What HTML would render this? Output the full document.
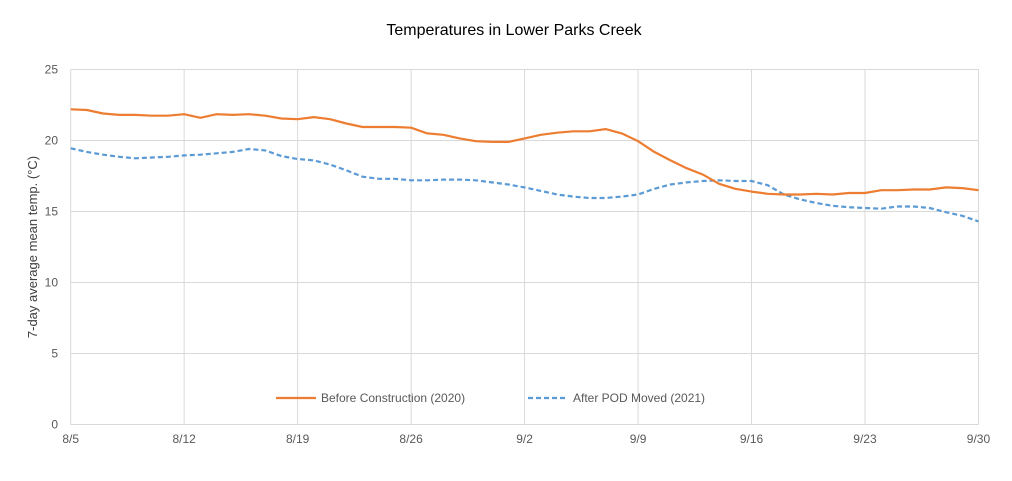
<!DOCTYPE html>
<html><head><meta charset="utf-8"><style>
body{margin:0;background:#fff;}
svg{display:block;font-family:"Liberation Sans",sans-serif;}
</style></head><body>
<svg id="c" width="1012" height="481" xmlns="http://www.w3.org/2000/svg">
<rect width="1012" height="481" fill="#fff"/>
<text x="514" y="35" text-anchor="middle" font-size="16" fill="#000">Temperatures in Lower Parks Creek</text>
<g id="grid" stroke="#d9d9d9" stroke-width="1"></g>
<g id="labels" font-size="12" fill="#595959"></g>
<text transform="translate(37,247) rotate(-90)" text-anchor="middle" font-size="13" fill="#404040">7-day average  mean temp. (°C)</text>
<g id="series"></g>
<line x1="276" y1="398" x2="316" y2="398" stroke="#ed7d31" stroke-width="2.2"/>
<text x="321" y="402" font-size="12" fill="#595959">Before Construction (2020)</text>
<line x1="528" y1="398" x2="568" y2="398" stroke="#5b9bd5" stroke-width="2.2" stroke-dasharray="5,3"/>
<text x="573" y="402" font-size="12" fill="#595959">After POD Moved (2021)</text>
</svg>
<script>
var x0=70.7,dx=16.21,y0=424.5,ky=14.2;
var ns="http://www.w3.org/2000/svg";
function el(t,a,p){var e=document.createElementNS(ns,t);for(var k in a)e.setAttribute(k,a[k]);p.appendChild(e);return e;}
var g=document.getElementById('grid'),L=document.getElementById('labels'),S=document.getElementById('series');
for(var v=0;v<=25;v+=5){var y=y0-v*ky;el('line',{x1:x0,x2:978.6,y1:y,y2:y},g);var t=el('text',{x:58,y:y+4,'text-anchor':'end'},L);t.textContent=v;}
var xl=['8/5','8/12','8/19','8/26','9/2','9/9','9/16','9/23','9/30'];
for(var i=0;i<9;i++){var x=x0+i*7*dx;el('line',{x1:x,x2:x,y1:69.5,y2:y0},g);var t=el('text',{x:x,y:443,'text-anchor':'middle'},L);t.textContent=xl[i];}
var o=[22.2,22.15,21.9,21.8,21.8,21.75,21.75,21.85,21.6,21.85,21.8,21.85,21.75,21.55,21.5,21.65,21.5,21.2,20.95,20.95,20.95,20.9,20.5,20.4,20.15,19.95,19.9,19.9,20.15,20.4,20.55,20.65,20.65,20.8,20.5,19.95,19.2,18.6,18.05,17.6,16.95,16.6,16.4,16.25,16.2,16.2,16.25,16.2,16.3,16.3,16.5,16.5,16.55,16.55,16.7,16.65,16.5];
var b=[19.45,19.2,19.0,18.85,18.75,18.8,18.85,18.95,19.0,19.1,19.2,19.4,19.3,18.9,18.7,18.6,18.3,17.9,17.45,17.3,17.3,17.2,17.2,17.25,17.25,17.2,17.05,16.9,16.7,16.45,16.2,16.05,15.95,15.95,16.05,16.2,16.6,16.9,17.05,17.15,17.2,17.15,17.15,16.85,16.2,15.85,15.6,15.4,15.3,15.25,15.2,15.35,15.35,15.25,14.95,14.7,14.3];
function pts(a){return a.map(function(v,i){return (x0+i*dx).toFixed(1)+','+(y0-v*ky).toFixed(1);}).join(' ');}
el('polyline',{points:pts(b),fill:'none',stroke:'#5b9bd5','stroke-width':2.2,'stroke-dasharray':'5,3'},S);
el('polyline',{points:pts(o),fill:'none',stroke:'#ed7d31','stroke-width':2.2,'stroke-linejoin':'round'},S);
</script>
</body></html>
